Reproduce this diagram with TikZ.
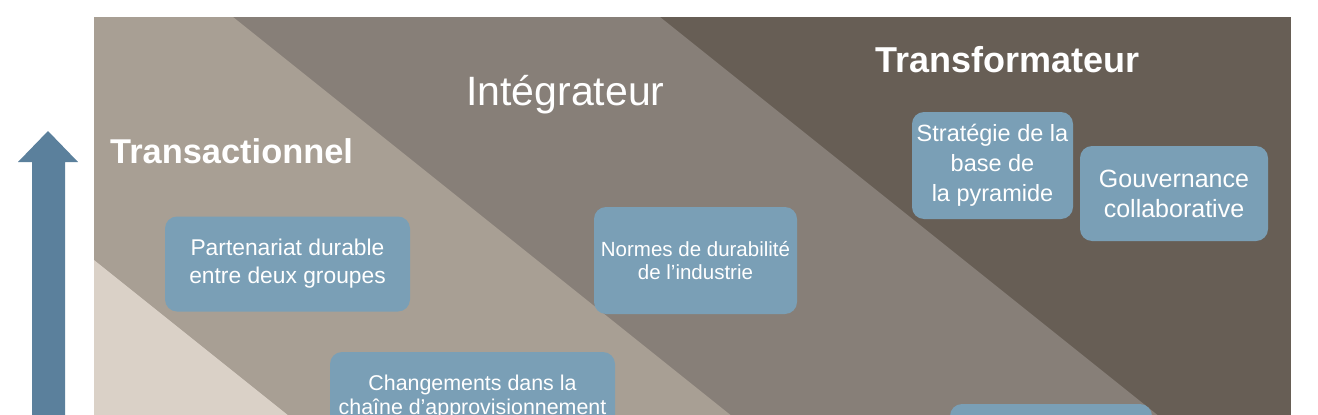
\documentclass[tikz,border=0pt]{standalone}
\usepackage{fontspec}
\setmainfont{Liberation Sans}
\definecolor{pale}{HTML}{DAD1C7}
\definecolor{sand}{HTML}{A89F94}
\definecolor{taupe}{HTML}{877F78}
\definecolor{umber}{HTML}{675E55}
\definecolor{boxblue}{HTML}{7A9FB6}
\definecolor{arrowblue}{HTML}{5B809C}
\usetikzlibrary{positioning}

\begin{document}
\begin{tikzpicture}[x=1pt, y=-1pt,
  card/.style={rectangle, rounded corners=12pt, fill=boxblue, text=white, align=center, inner sep=0pt},
  stage/.style={text=white, anchor=base west, inner sep=0pt},
]
\useasboundingbox (0,0) rectangle (1318,415);
\clip (0,0) rectangle (1318,415);
\fill[white] (0,0) rectangle (1318,415);
% diagonal bands
\fill[umber] (94,17) rectangle (1291,520);
\fill[taupe] (94,17) -- (660,17) -- (1288.75,520) -- (94,520) -- cycle;
\fill[sand] (94,17) -- (233,17) -- (861.75,520) -- (94,520) -- cycle;
\fill[pale] (94,260) -- (419,520) -- (94,520) -- cycle;
% rising arrow
\fill[arrowblue] (32,520) -- (32,162) -- (18,162) -- (48,131) -- (78,162) -- (65,162) -- (65,520) -- cycle;
% stage titles
\node[stage, font={\bfseries\fontsize{34.4}{40}\selectfont}] (transac) at (110,163) {Transactionnel};
\node[stage, font={\fontsize{41}{48}\selectfont}] (integ) at (466,105) {Intégrateur};
\node[stage, font={\bfseries\fontsize{36}{42}\selectfont}] (transfo) at (875,72) {Transformateur};
% practices
\node[card, minimum width=245, minimum height=95, font={\fontsize{22.8}{28}\selectfont}] (partner) at (287.5,264) {Partenariat durable\\entre deux groupes};
\node[card, minimum width=203, minimum height=107, font={\fontsize{20.5}{23.5}\selectfont}] (norms) at (695.5,260.5) {Normes de durabilité\\de l’industrie};
\node[card, minimum width=161, minimum height=107, font={\fontsize{23.5}{30}\selectfont}] (pyramid) at (992.5,165.5) {Stratégie de la\\base de\\la pyramide};
\node[card, minimum width=188, minimum height=95, font={\fontsize{25}{30}\selectfont}] (govern) at (1174,193.5) {Gouvernance\\collaborative};
\node[card, minimum width=285, minimum height=90, font={\fontsize{21.4}{24}\selectfont}] (supply) at (472.5,397) {Changements dans la\\chaîne d’approvisionnement};
\node[card, minimum width=202, minimum height=100] (lower) at (1051,454) {};
\end{tikzpicture}
\end{document}
